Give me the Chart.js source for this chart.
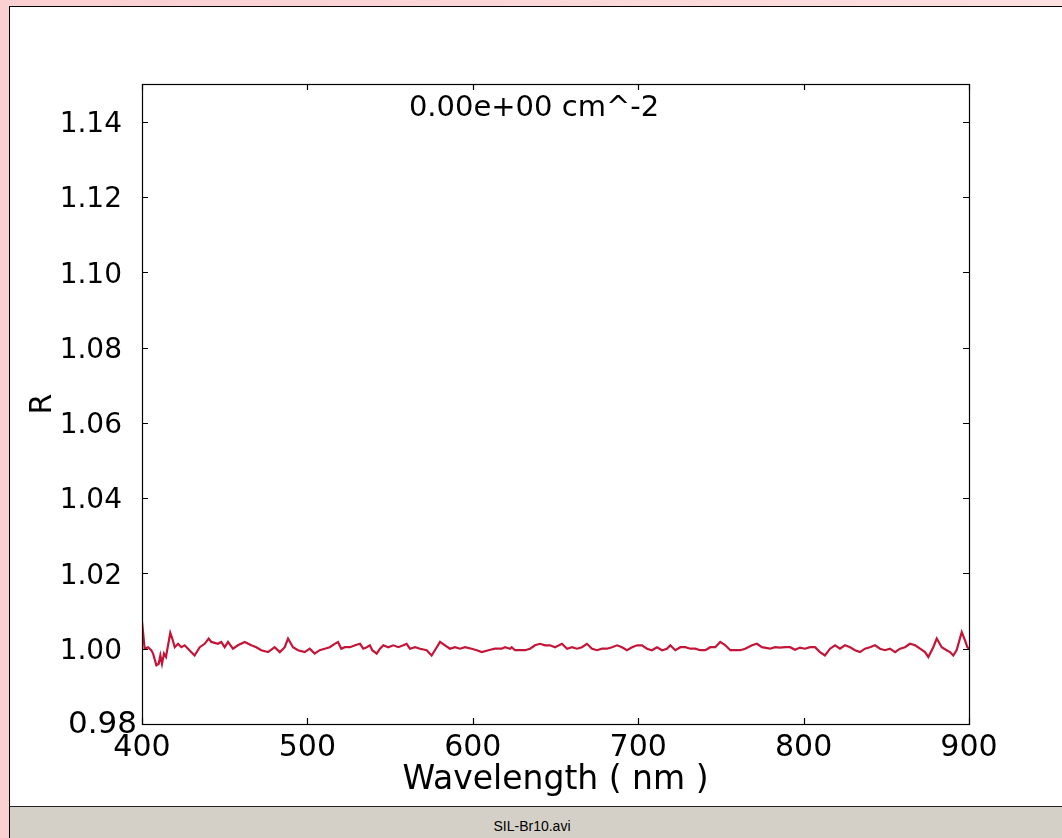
<!DOCTYPE html>
<html><head><meta charset="utf-8">
<script src="https://cdn.jsdelivr.net/npm/chart.js@4.4.0/dist/chart.umd.min.js"></script>
<style>
html,body{margin:0;padding:0;}
body{width:1062px;height:838px;overflow:hidden;position:relative;background:linear-gradient(to right,#fbd0d1,#fde0e0);}
#panel{position:absolute;left:9px;top:6px;width:1053px;height:800px;background:#fff;border-left:1px solid #000;border-top:1px solid #000;box-sizing:border-box;}
#status{position:absolute;left:9px;top:806px;width:1053px;height:32px;background:#d4d0c8;border-top:1px solid #222;border-left:1px solid #000;box-sizing:border-box;font:14px "Liberation Sans",sans-serif;text-align:center;line-height:38px;color:#000;padding-right:8px;}
#c{position:absolute;left:0;top:0;}
</style></head>
<body>
<div id="panel"></div>
<div id="status">SIL-Br10.avi</div>
<canvas id="c" width="1062" height="838"></canvas>
<script>
const wavelengths = [400,401.6,403.6,405.6,406.7,408.7,410.1,411.1,412.1,413.3,414.5,417.1,418.3,419.8,421.8,423.8,425.8,427.8,431.8,434.9,437.9,440.3,441.9,445.9,447.9,450.0,452.0,455.0,458.0,462.1,466.1,469.1,472.1,476.2,480.2,483.3,486.3,488.3,491.3,494.3,498.4,501.4,504.4,507.4,510.5,513.5,516.5,518.5,520.5,522.6,
525.8,528.8,531.8,533.8,535.9,537.8,539.2,541.9,543.9,545.9,548.9,551.9,555.0,558.0,560.0,562.0,565.1,568.1,572.1,575.1,577.1,580.2,583.2,586.2,589.2,592.3,595.3,599.3,602.4,605.4,609.4,613.4,617.5,619.5,622.5,623.5,625.5,628.5,631.6,634.6,637.6,640.6,643.7,646.7,649.7,
653.9,657.0,660.0,663.0,666.0,669.0,672.1,675.1,678.1,681.1,684.2,687.2,690.2,693.2,696.3,699.3,702.3,705.3,708.3,711.4,714.4,717.4,719.4,722.4,725.5,728.5,731.5,734.5,737.5,740.6,743.6,746.6,749.6,752.7,755.7,758.7,761.7,764.7,768.8,771.8,774.8,
779.7,782.7,785.7,788.8,791.8,794.8,797.8,800.8,803.9,806.9,809.9,812.9,816.0,819.0,822.0,825.0,828.1,831.1,834.1,837.1,840.1,843.2,846.2,849.2,852.2,855.3,858.3,861.3,864.3,867.4,870.4,873.4,875.4,878.4,880.5,883.5,886.5,888.5,890.5,892.5,895.6,897.6,899.0,900];
const reflectance = [1.0072,1.0000,1.0004,0.9996,0.9987,0.9956,0.9960,0.9982,0.9960,0.9987,0.9978,1.0042,1.0027,1.0004,1.0013,1.0004,1.0009,1.0000,0.9982,1.0004,1.0013,1.0027,1.0018,1.0013,1.0018,1.0004,1.0018,1.0000,1.0009,1.0018,1.0009,1.0004,0.9996,0.9991,1.0004,0.9991,1.0004,1.0027,1.0004,0.9996,0.9991,1.0000,0.9987,0.9996,1.0000,1.0004,1.0013,1.0018,1.0000,1.0004,
1.0004,1.0009,1.0013,1.0000,1.0004,1.0009,0.9996,0.9987,1.0000,1.0009,1.0004,1.0009,1.0004,1.0009,1.0013,1.0000,1.0004,1.0000,0.9996,0.9982,0.9996,1.0018,1.0009,1.0000,1.0004,1.0000,1.0004,1.0000,0.9996,0.9991,0.9996,1.0000,1.0000,1.0004,1.0000,1.0004,0.9996,0.9996,0.9996,1.0000,1.0009,1.0013,1.0009,1.0009,1.0004,
1.0013,1.0000,1.0004,1.0000,1.0004,1.0013,1.0000,0.9996,1.0000,1.0000,1.0004,1.0009,1.0004,0.9996,1.0004,1.0009,1.0009,1.0000,0.9996,1.0004,0.9996,1.0000,1.0009,0.9996,1.0004,1.0004,1.0000,1.0000,0.9996,0.9996,1.0004,1.0004,1.0018,1.0009,0.9996,0.9996,0.9996,1.0000,1.0009,1.0013,1.0004,
1.0000,1.0004,1.0003,1.0004,1.0004,0.9997,1.0003,1.0000,1.0004,1.0004,0.9991,0.9982,1.0000,1.0009,1.0000,1.0009,1.0004,0.9996,0.9991,1.0000,1.0004,1.0009,1.0000,0.9996,1.0000,0.9991,1.0000,1.0004,1.0013,1.0009,1.0000,0.9991,0.9978,1.0004,1.0027,1.0004,0.9996,0.9991,0.9982,0.9996,1.0044,1.0022,1.0004,1.0000];
const xTicks = [400,500,600,700,800,900];
const yTicks = [0.98,1.00,1.02,1.04,1.06,1.08,1.10,1.12,1.14];
const xLabel = 'Wavelength ( nm )';
const yLabel = 'R';
const annotationText = '0.00e+00 cm^-2';
const annotationPos = {x: 637, y: 1.1436};

const FONT = '"DejaVu Sans", sans-serif';

const framePlugin = {
  id: 'frame',
  afterDatasetsDraw(chart) {
    const {ctx, chartArea: {left, top, right, bottom}, scales: {x, y}} = chart;
    ctx.save();
    ctx.strokeStyle = '#000';
    ctx.lineWidth = 1.2;
    ctx.beginPath();
    xTicks.forEach(v => {
      const px = Math.round(x.getPixelForValue(v)) + 0.5;
      ctx.moveTo(px, bottom); ctx.lineTo(px, bottom - 6);
      ctx.moveTo(px, top); ctx.lineTo(px, top + 6);
    });
    yTicks.forEach(v => {
      const py = Math.round(y.getPixelForValue(v)) + 0.5;
      ctx.moveTo(left, py); ctx.lineTo(left + 6, py);
      ctx.moveTo(right, py); ctx.lineTo(right - 6, py);
    });
    ctx.stroke();
    ctx.strokeRect(Math.round(left) + 0.5, Math.round(top) + 0.5, Math.round(right - left), Math.round(bottom - top));
    ctx.fillStyle = '#000';
    // lowest y tick label, drawn overlapping the x labels as in the original
    ctx.font = '31px ' + FONT;
    ctx.textAlign = 'right';
    ctx.textBaseline = 'middle';
    ctx.fillText(Number(yTicks[0]).toFixed(2), left - 5, y.getPixelForValue(yTicks[0]) + 1);
    ctx.font = '29px ' + FONT;
    ctx.textAlign = 'center';
    ctx.fillText(annotationText, x.getPixelForValue(annotationPos.x), y.getPixelForValue(annotationPos.y));
    ctx.restore();
  }
};

new Chart(document.getElementById('c'), {
  type: 'line',
  data: {
    datasets: [{
      data: wavelengths.map((w, i) => ({x: w, y: reflectance[i]})),
      borderColor: 'rgb(196,20,56)',
      borderWidth: 2.2,
      pointRadius: 0,
      tension: 0,
      fill: false
    }]
  },
  options: {
    responsive: false,
    animation: false,
    devicePixelRatio: 1,
    layout: {padding: {left: 9, top: 84, right: 93, bottom: 32}},
    plugins: {legend: {display: false}, tooltip: {enabled: false}, title: {display: false}},
    scales: {
      x: {
        type: 'linear', min: 400, max: 900,
        afterBuildTicks: s => { s.ticks = xTicks.map(v => ({value: v})); },
        afterFit: s => { s.height = 82; },
        grid: {display: false, drawTicks: false},
        border: {display: false},
        ticks: {font: {size: 30, family: FONT}, color: '#000', padding: 6, maxRotation: 0, autoSkip: false, callback: v => String(v)},
        title: {display: true, text: xLabel, color: '#000', font: {size: 33, family: FONT}, padding: {top: 0, bottom: 6}}
      },
      y: {
        type: 'linear', min: 0.98, max: 1.15,
        afterBuildTicks: s => { s.ticks = yTicks.map(v => ({value: v})); },
        afterFit: s => { s.width = 133; },
        grid: {display: false, drawTicks: false},
        border: {display: false},
        ticks: {font: {size: 28, family: FONT}, color: '#000', padding: 20, labelOffset: 3, autoSkip: false,
                callback: v => (Math.abs(v - yTicks[0]) < 1e-9 ? '' : Number(v).toFixed(2))},
        title: {display: true, text: yLabel, color: '#000', font: {size: 30, family: FONT}, padding: {top: 16, bottom: 0}}
      }
    }
  },
  plugins: [framePlugin]
});
</script>
</body></html>
